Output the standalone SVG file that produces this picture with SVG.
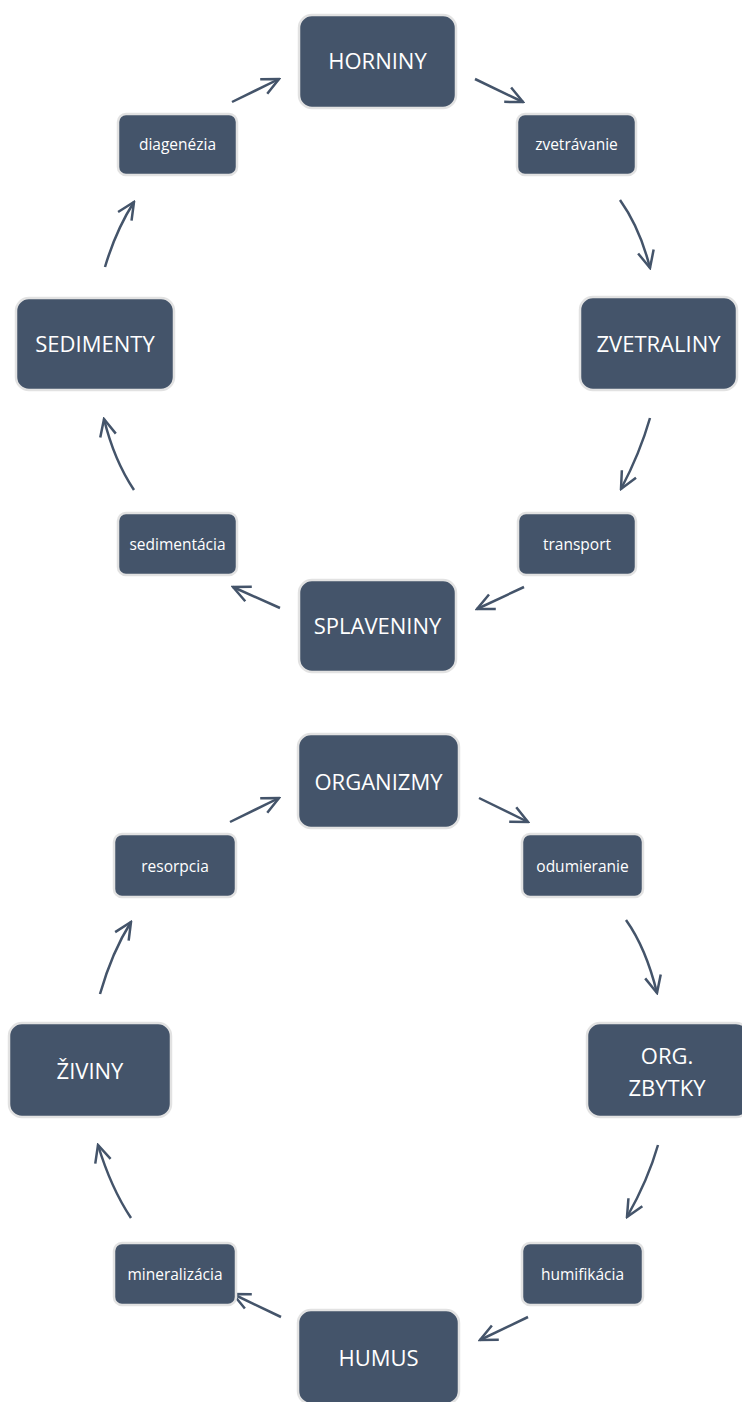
<svg xmlns="http://www.w3.org/2000/svg" width="742" height="1402" viewBox="0 0 742 1402">
<style>
.n{fill:#44546A;stroke:#e2e2e2;stroke-width:2.5}
.t{fill:#ffffff;font-family:"Open Sans","Liberation Sans",sans-serif;text-anchor:middle}
.b{font-size:22px}
.s{font-size:15.5px}
.c{fill:none;stroke:#44546A;stroke-width:2.5;marker-end:url(#ah)}
</style>
<defs>
<marker id="ah" viewBox="-20 -11 22 22" refX="0" refY="0" markerWidth="22" markerHeight="22" markerUnits="userSpaceOnUse" orient="auto">
<path d="M-17,-8 L0,0 L-17,8" fill="none" stroke="#44546A" stroke-width="2.5" stroke-linejoin="miter"/>
</marker>
</defs>
<rect width="742" height="1402" fill="#ffffff"/>
<g id="connectors">
<path class="c" d="M232,102 L279,79"/>
<path class="c" d="M475,79 L523,102"/>
<path class="c" d="M620,200 Q640,228 650,268"/>
<path class="c" d="M650,418 Q640,453 621,489"/>
<path class="c" d="M524,587 L477,609"/>
<path class="c" d="M280,608 L233,587"/>
<path class="c" d="M134,490 Q114,460 104,419"/>
<path class="c" d="M105,267 Q116,230 134,202"/>
<path class="c" d="M230,822 L279,798"/>
<path class="c" d="M479,798 L528,822"/>
<path class="c" d="M626,920 Q646,948 657,993"/>
<path class="c" d="M658,1145 Q648,1180 627,1217"/>
<path class="c" d="M528,1317 L480,1340"/>
<path class="c" d="M281,1317 L233,1294"/>
<path class="c" d="M131,1218 Q111,1188 98,1145"/>
<path class="c" d="M100,994 Q112,952 131,922"/>
</g>
<g id="horniny"><rect class="n" x="299" y="15" width="157" height="93" rx="13"/><text class="t b" x="377.5" y="69">HORNINY</text></g>
<g id="diagenezia"><rect class="n" x="118" y="114" width="119" height="61" rx="8"/><text class="t s" x="177.5" y="150">diagenézia</text></g>
<g id="zvetravanie"><rect class="n" x="517" y="114" width="119" height="61" rx="8"/><text class="t s" x="576.5" y="150">zvetrávanie</text></g>
<g id="sedimenty"><rect class="n" x="16" y="298" width="158" height="92" rx="13"/><text class="t b" x="95" y="352">SEDIMENTY</text></g>
<g id="zvetraliny"><rect class="n" x="580" y="297" width="157" height="93" rx="13"/><text class="t b" x="658.5" y="351.5">ZVETRALINY</text></g>
<g id="transport"><rect class="n" x="518" y="513" width="118" height="62" rx="8"/><text class="t s" x="577" y="549.5">transport</text></g>
<g id="sedimentacia"><rect class="n" x="118" y="513" width="119" height="62" rx="8"/><text class="t s" x="177.5" y="549.5">sedimentácia</text></g>
<g id="splaveniny"><rect class="n" x="299" y="580" width="157" height="92" rx="13"/><text class="t b" x="377.5" y="634">SPLAVENINY</text></g>
<g id="organizmy"><rect class="n" x="298" y="734" width="161" height="94" rx="13"/><text class="t b" x="378.5" y="789.5">ORGANIZMY</text></g>
<g id="resorpcia"><rect class="n" x="114" y="834" width="122" height="63" rx="8"/><text class="t s" x="175" y="871.5">resorpcia</text></g>
<g id="odumieranie"><rect class="n" x="522" y="834" width="121" height="63" rx="8"/><text class="t s" x="582.5" y="871.5">odumieranie</text></g>
<g id="ziviny"><rect class="n" x="9" y="1023" width="162" height="94" rx="13"/><text class="t b" x="90" y="1078.5">ŽIVINY</text></g>
<g id="org-zbytky"><rect class="n" x="587" y="1023" width="162" height="94" rx="13"/><text class="t b" x="667" y="1063.5">ORG.</text><text class="t b" x="667" y="1095.5">ZBYTKY</text></g>
<g id="mineralizacia"><rect class="n" x="114" y="1243" width="122" height="62" rx="8"/><text class="t s" x="175" y="1279.5">mineralizácia</text></g>
<g id="humifikacia"><rect class="n" x="522" y="1243" width="121" height="62" rx="8"/><text class="t s" x="582.5" y="1279.5">humifikácia</text></g>
<g id="humus"><rect class="n" x="298" y="1310" width="161" height="94" rx="13"/><text class="t b" x="378.5" y="1365.5">HUMUS</text></g>
</svg>
